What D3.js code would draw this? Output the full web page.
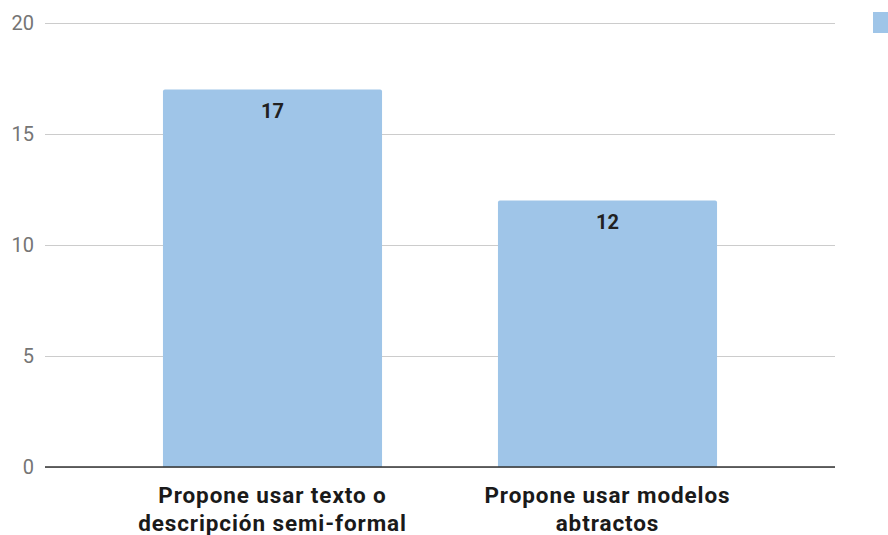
<!DOCTYPE html>
<html>
<head>
<meta charset="utf-8">
<script src="https://cdn.jsdelivr.net/npm/d3@7"></script>
<style>
  html, body { margin: 0; padding: 0; background: #fff; }
  svg { display: block; font-family: Roboto, "Noto Sans", sans-serif; }
</style>
</head>
<body>
<svg id="chart" width="888" height="535"></svg>
<script>
// Chart data
const categories = [
  ["Propone usar texto o", "descripción semi-formal"],
  ["Propone usar modelos", "abtractos"]
];
const values = [17, 12];
const yTicks = [0, 5, 10, 15, 20];

const svg = d3.select("#chart");
const plot = { left: 45, right: 835, top: 23, bottom: 467 };
const barColor = "#9fc5e8";

const y = d3.scaleLinear().domain([0, 20]).range([plot.bottom, plot.top]);
const x = d3.scaleBand()
  .domain(d3.range(categories.length))
  .range([105, 775])
  .paddingInner(0.346)
  .paddingOuter(0.173);

// Horizontal gridlines with tick labels
const yAxis = d3.axisLeft(y).tickValues(yTicks).tickSize(-(plot.right - plot.left)).tickPadding(11);
const gy = svg.append("g").attr("transform", `translate(${plot.left},0)`).call(yAxis);
gy.select(".domain").remove();
gy.selectAll(".tick line").attr("stroke", "#cccccc").attr("stroke-width", 1);
gy.selectAll(".tick text")
  .attr("fill", "#757575")
  .attr("font-size", 20)
  .attr("font-family", "Roboto, sans-serif");

// Bars
svg.append("g").selectAll("path")
  .data(values)
  .join("path")
  .attr("fill", barColor)
  .attr("d", (d, i) => {
    const x0 = x(i), w = x.bandwidth(), top = y(d), bot = y(0), r = 2;
    return `M${x0},${bot}V${top + r}Q${x0},${top} ${x0 + r},${top}H${x0 + w - r}Q${x0 + w},${top} ${x0 + w},${top + r}V${bot}Z`;
  });

// Value labels inside bars
svg.append("g").selectAll("text")
  .data(values)
  .join("text")
  .attr("x", (d, i) => x(i) + x.bandwidth() / 2)
  .attr("y", d => y(d) + 28)
  .attr("text-anchor", "middle")
  .attr("font-size", 20)
  .attr("font-weight", "bold")
  .attr("fill", "#212121")
  .text(d => d);

// Baseline
svg.append("line")
  .attr("x1", plot.left).attr("x2", plot.right)
  .attr("y1", y(0)).attr("y2", y(0))
  .attr("stroke", "#333333").attr("stroke-width", 1.5);

// Category labels (two lines each)
const xl = svg.append("g").selectAll("text")
  .data(categories)
  .join("text")
  .attr("x", (d, i) => x(i) + x.bandwidth() / 2)
  .attr("y", 502.5)
  .attr("text-anchor", "middle")
  .attr("font-size", 22.5)
  .attr("letter-spacing", 0.9)
  .attr("font-weight", "bold")
  .attr("fill", "#1a1a1a");
xl.selectAll("tspan")
  .data(d => d)
  .join("tspan")
  .attr("x", function () { return this.parentNode.getAttribute("x"); })
  .attr("dy", (d, j) => j === 0 ? 0 : 28)
  .text(d => d);

// Legend swatch (clipped at the right edge)
svg.append("rect")
  .attr("x", 873).attr("y", 12)
  .attr("width", 20).attr("height", 21)
  .attr("fill", barColor);
</script>
</body>
</html>
